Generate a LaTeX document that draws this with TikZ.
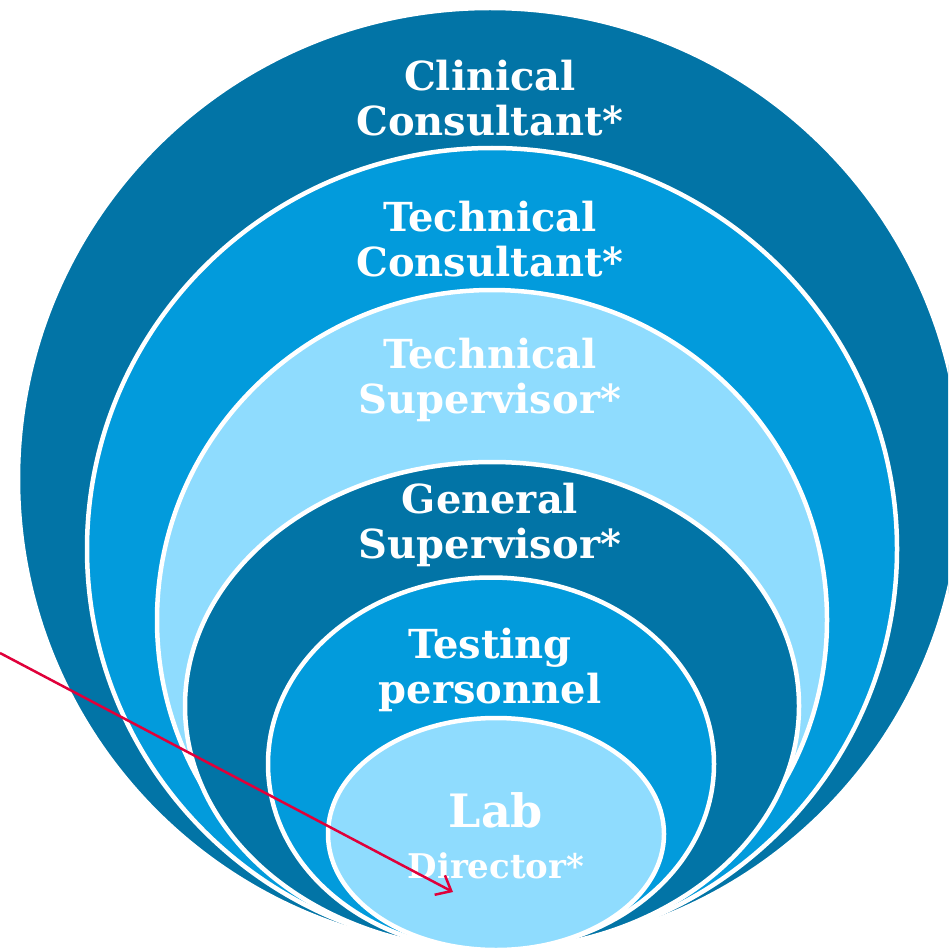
\documentclass[tikz,border=0pt]{standalone}
\usepackage{fontspec}
\setmainfont{DejaVu Serif}
\usetikzlibrary{shapes.geometric,arrows.meta}
\definecolor{darkb}{HTML}{0274A6}
\definecolor{midb}{HTML}{029BDC}
\definecolor{lightb}{HTML}{8FDCFE}
\definecolor{arrowred}{HTML}{E0003A}
\tikzset{
  ring/.style={ellipse, draw=white, line width=4.5pt, inner sep=0pt},
  lbl/.style={text=white, font=\bfseries\fontsize{40}{45}\selectfont, align=center, inner sep=0pt},
}
\begin{document}
\begin{tikzpicture}[x=1pt,y=-1pt]
\useasboundingbox (0,0) rectangle (948,952);
\fill[white] (0,0) rectangle (948,952);
\clip (0,0) rectangle (948,952);
\node[ring, fill=darkb, minimum width=944, minimum height=942] (e1) at (490,479) {};
\node[ring, fill=midb, minimum width=810, minimum height=802] (e2) at (492,549) {};
\node[ring, fill=lightb, minimum width=670, minimum height=660] (e3) at (492,620) {};
\node[ring, fill=darkb, minimum width=614, minimum height=488] (e4) at (492,706) {};
\node[ring, fill=midb, minimum width=446, minimum height=373] (e5) at (491,764) {};
\node[ring, fill=lightb, minimum width=336, minimum height=232] (e6) at (496,834) {};
\node[lbl] (t1) at (490,98) {Clinical\\Consultant*};
\node[lbl] (t2) at (490,239) {Technical\\Consultant*};
\node[lbl] (t3) at (490,380) {Technical\\Supervisor*};
\node[lbl] (t4) at (490,525) {General\\Supervisor*};
\node[lbl] (t5) at (490,670) {Testing\\personnel};
\node[text=white, font=\bfseries\fontsize{46}{50}\selectfont, inner sep=0pt, anchor=base] (t6) at (496,827) {Lab};
\node[text=white, font=\bfseries\fontsize{34}{38}\selectfont, inner sep=0pt, anchor=base] (t7) at (496,878) {Director*};
\coordinate (a0) at (0,653);
\coordinate (a1) at (453,892);
\draw[arrowred, line width=2.5pt, -{Straight Barb[length=13pt,width=22pt,line width=2.5pt]}] (a0) -- (a1);
\end{tikzpicture}
\end{document}
